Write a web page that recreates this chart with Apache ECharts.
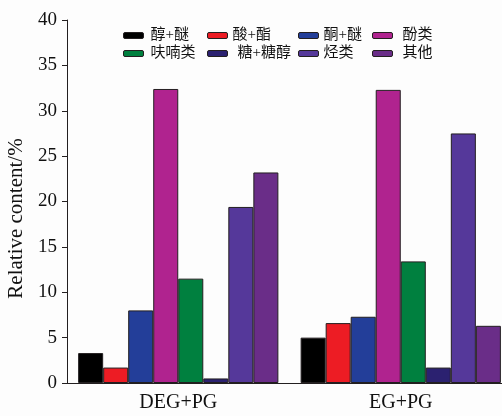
<!DOCTYPE html>
<html>
<head>
<meta charset="utf-8">
<script src="https://cdn.jsdelivr.net/npm/echarts@6/dist/echarts.min.js"></script>
<style>
html,body{margin:0;padding:0;background:#fdfdfd;}
#c{width:502px;height:416px;}
</style>
</head>
<body>
<div id="c"></div>
<script>
const categories = ['DEG+PG', 'EG+PG'];
const seriesNames = ['醇+醚', '酸+酯', '酮+醚', '酚类', '呋喃类', '糖+糖醇', '烃类', '其他'];
const alcoholEther = [3.3, 5.0];
const acidEster = [1.7, 6.6];
const ketoneEther = [8.0, 7.3];
const phenols = [32.4, 32.3];
const furans = [11.5, 13.4];
const sugars = [0.5, 1.7];
const hydrocarbons = [19.4, 27.5];
const others = [23.2, 6.3];
const yTicks = [0, 5, 10, 15, 20, 25, 30, 35, 40];

const values = [alcoholEther, acidEster, ketoneEther, phenols, furans, sugars, hydrocarbons, others];
const colors = ['#000000', '#ed1c24', '#233e99', '#b0238f', '#00803f', '#2b2170', '#55389a', '#6a2d88'];

// legend layout: [iconLeft, rowCenterY, extra text padding]
const legendPos = [
  [123, 33, 2], [207, 33, 0], [298, 33, 0], [372, 33, 5],
  [123, 51, 2], [207, 51, 5], [298, 51, 0], [372, 51, 5]
];

const FONT = "'Liberation Serif', 'Noto Sans CJK SC', serif";

const legends = seriesNames.map((n, i) => ({
  data: [n],
  left: legendPos[i][0],
  top: legendPos[i][1] - 5,
  itemWidth: 20,
  itemHeight: 6,
  padding: 0,
  selectedMode: false,
  itemStyle: { borderColor: '#231f20', borderWidth: 1 },
  textStyle: { fontFamily: FONT, fontSize: 15, color: '#111', padding: [0, 0, 0, legendPos[i][2]] }
}));

const option = {
  backgroundColor: '#fdfdfd',
  animation: false,
  legend: legends,
  grid: { left: 67, width: 445, top: 20, bottom: 33, containLabel: false, outerBoundsMode: 'none' },
  xAxis: {
    type: 'category',
    data: categories,
    axisLine: { lineStyle: { color: '#231f20', width: 1 } },
    axisTick: { show: false },
    axisLabel: { fontFamily: FONT, fontSize: 20, color: '#111', margin: 10 }
  },
  yAxis: {
    type: 'value',
    min: 0, max: 40, interval: 5,
    name: 'Relative content/%',
    nameLocation: 'middle',
    nameGap: 36,
    nameTextStyle: { fontFamily: FONT, fontSize: 21, color: '#111', padding: [0, 34, 0, 0] },
    axisLine: { show: true, lineStyle: { color: '#231f20', width: 1 } },
    axisTick: { show: true, length: 5, lineStyle: { color: '#231f20' } },
    axisLabel: { fontFamily: FONT, fontSize: 19, color: '#111', margin: 10,
      formatter: v => yTicks.includes(v) ? String(v) : '' },
    splitLine: { show: false }
  },
  series: seriesNames.map((n, i) => ({
    name: n,
    type: 'bar',
    data: values[i],
    barGap: '0%',
    barCategoryGap: '10%',
    itemStyle: { color: colors[i], borderColor: '#231f20', borderWidth: 1 }
  }))
};

const chart = echarts.init(document.getElementById('c'), null, { renderer: 'canvas' });
chart.setOption(option);
</script>
</body>
</html>
